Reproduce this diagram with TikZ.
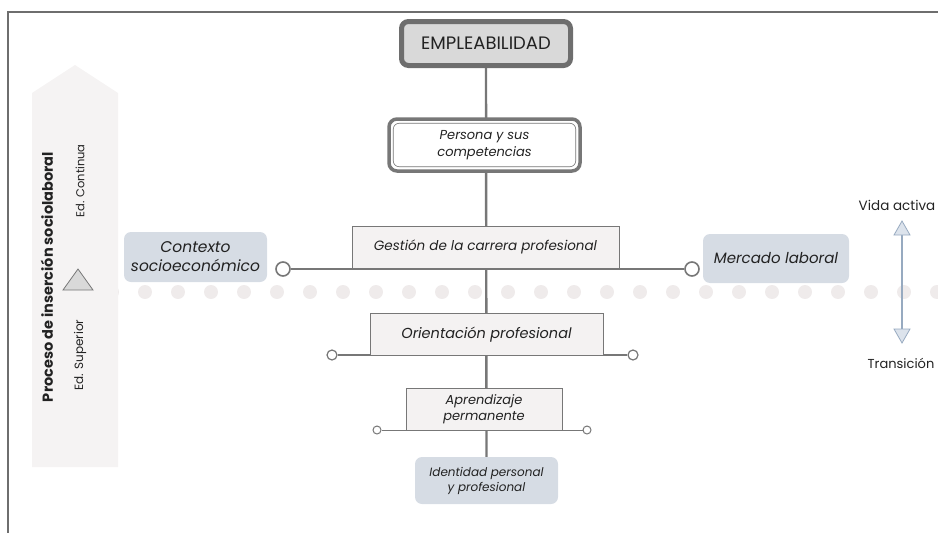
\documentclass[tikz,border=0pt]{standalone}
\usepackage{fontspec}
\setmainfont{Poppins}
\usetikzlibrary{backgrounds}
\definecolor{frameg}{HTML}{6E6E6E}
\definecolor{lineg}{HTML}{777777}
\definecolor{boxf}{HTML}{F4F2F2}
\definecolor{bluef}{HTML}{D6DCE4}
\definecolor{empf}{HTML}{D9D9D9}
\definecolor{dotf}{HTML}{EFEBEB}
\definecolor{arrf}{HTML}{F5F3F3}
\definecolor{arrl}{HTML}{97AAC0}
\definecolor{arrh}{HTML}{DCE3EC}
\definecolor{txt}{HTML}{222222}
\tikzset{
  rectbox/.style={draw=lineg, line width=1pt, fill=boxf, text=txt, align=center, inner sep=2pt},
  bluebox/.style={fill=bluef, rounded corners=7pt, text=txt, align=center, inner sep=2pt},
  endring/.style={circle, draw=lineg, fill=white, line width=1.6pt, inner sep=0pt},
  conn/.style={draw=lineg, line width=2.4pt},
  hconn/.style={draw=lineg, line width=1.6pt},
}
\begin{document}
\begin{tikzpicture}[x=1pt,y=-1pt]
\useasboundingbox (0,0) rectangle (938,533);
% frame
\draw[frameg, line width=2pt] (8,533) -- (8,12) -- (938,12);
% nodes
\node[draw=frameg, line width=5pt, fill=empf, rounded corners=7pt, minimum width=169pt, minimum height=44pt, text=txt, font=\fontsize{18}{20}\selectfont] (emp) at (486,43.5) {EMPLEABILIDAD};
\node[draw=lineg, line width=3.5pt, fill=white, rounded corners=8pt, minimum width=191pt, minimum height=52pt, text=txt, align=center, font=\fontsize{13}{17}\selectfont\itshape] (per) at (484.5,145) {Persona y sus\\competencias};
\draw[lineg, line width=0.6pt, rounded corners=6pt] ([xshift=6pt,yshift=-6pt]per.north west) rectangle ([xshift=-6pt,yshift=6pt]per.south east);
\node[rectbox, minimum width=267pt, minimum height=42pt, font=\fontsize{13.5}{16}\selectfont\itshape] (ges) at (485.5,247) {Gestión de la carrera profesional};
\node[bluebox, minimum width=143pt, minimum height=50pt, font=\fontsize{15.5}{19}\selectfont\itshape] (ctx) at (195.5,257) {Contexto\\socioeconómico};
\node[bluebox, minimum width=146pt, minimum height=49pt, font=\fontsize{15}{18}\selectfont\itshape] (mer) at (776,258.5) {Mercado laboral};
\node[rectbox, minimum width=233pt, minimum height=42pt, font=\fontsize{14.5}{17}\selectfont\itshape] (ori) at (486.5,334.5) {Orientación profesional};
\node[rectbox, minimum width=156pt, minimum height=42pt, font=\fontsize{13}{15.5}\selectfont\itshape] (apr) at (484,409) {Aprendizaje\\permanente};
\node[bluebox, minimum width=143pt, minimum height=47pt, font=\fontsize{12}{15}\selectfont\itshape] (ide) at (486.5,480.5) {Identidad personal\\y profesional};
% ring ends
\node[endring, minimum size=14pt] (gl) at (283,269) {};
\node[endring, minimum size=14pt] (gr) at (692,269) {};
\node[endring, minimum size=10pt, line width=1.2pt] (ol) at (332,355) {};
\node[endring, minimum size=10pt, line width=1.2pt] (or) at (633,355) {};
\node[endring, minimum size=8pt, line width=1pt] (al) at (377,430) {};
\node[endring, minimum size=8pt, line width=1pt] (ar) at (587,430) {};
\begin{scope}[on background layer]
  % dotted band
  \foreach \i in {0,...,25} {\fill[dotf] (112+33*\i,292) circle (7pt);}
  % left block arrow
  \fill[arrf] (32,467) -- (32,93) -- (75,65) -- (118,93) -- (118,467) -- cycle;
  % connectors
  \draw[conn] (emp.south) -- (ide.north);
  \draw[hconn] (gl.east) -- (gr.west);
  \draw[draw=lineg, line width=1.2pt] (ol.east) -- (or.west);
  \draw[draw=lineg, line width=1pt] (al.east) -- (ar.west);
\end{scope}
% left arrow texts
\node[rotate=90, text=txt, font=\fontsize{14.5}{16}\selectfont\bfseries] (proc) at (47,277) {Proceso de inserción sociolaboral};
\node[rotate=90, text=txt, font=\fontsize{11.5}{14}\selectfont] (cont) at (80,181) {Ed. Continua};
\node[rotate=90, text=txt, font=\fontsize{12}{14}\selectfont] (sup) at (80,355) {Ed. Superior};
\draw[lineg, fill=empf, line width=0.8pt] (63,290) -- (78,269) -- (93,290) -- cycle;
% right arrow
\node[text=txt, font=\fontsize{13.5}{15}\selectfont] (vida) at (897,205) {Vida activa};
\node[text=txt, font=\fontsize{13}{15}\selectfont] (tran) at (901,363) {Transición};
\coordinate (atop) at (902,234);
\coordinate (abot) at (902,330);
\draw[arrl, line width=1.2pt] (atop) -- (abot);
\draw[arrl, fill=arrh, line width=0.8pt] (902,221) -- (910,235) -- (894,235) -- cycle;
\draw[arrl, fill=arrh, line width=0.8pt] (902,343) -- (910,329) -- (894,329) -- cycle;
\end{tikzpicture}
\end{document}
